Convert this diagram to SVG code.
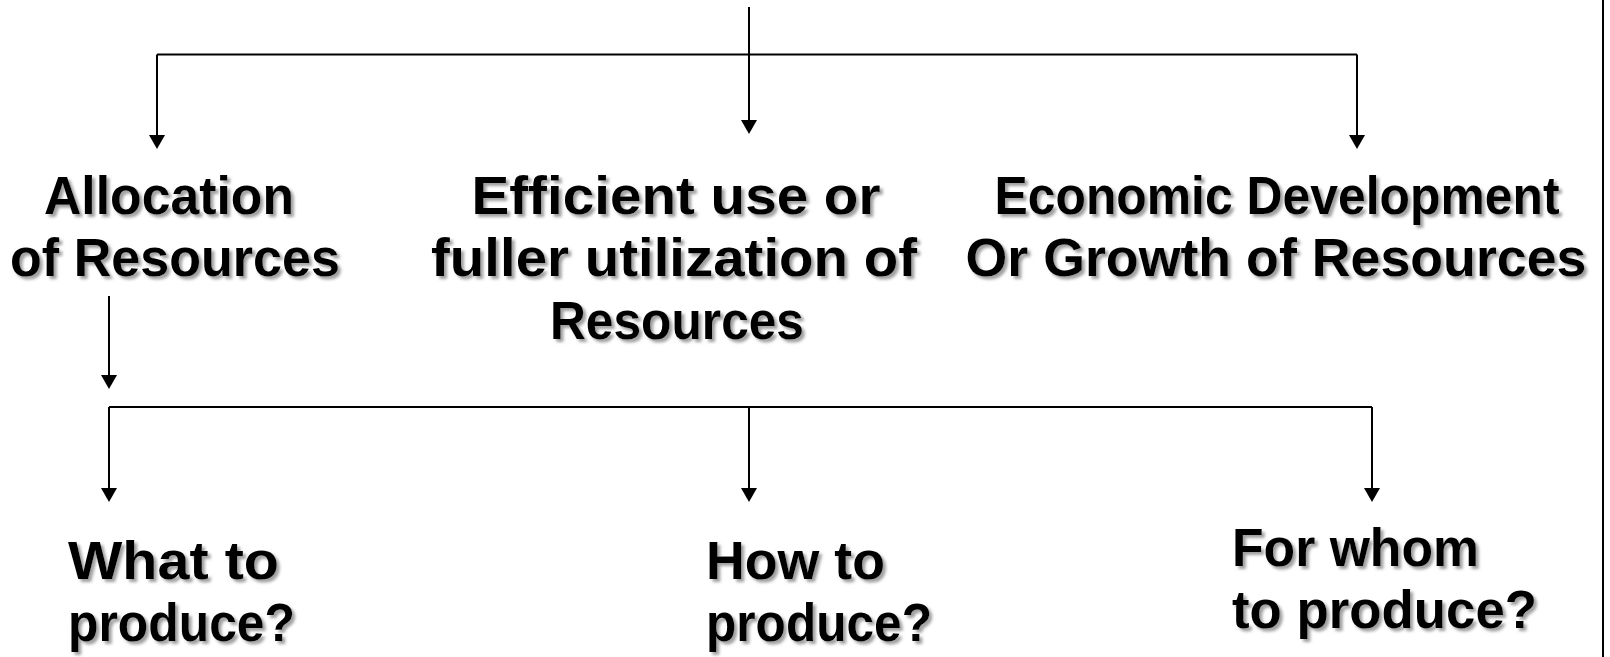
<svg xmlns="http://www.w3.org/2000/svg" width="1610" height="657" viewBox="0 0 1610 657">
<style>
.lbl{font-family:"Comic Sans MS","Liberation Sans","DejaVu Sans",sans-serif;font-weight:bold;font-size:53px;fill:#000;filter:url(#sh)}
.c{text-anchor:middle}
.conn path{stroke:#000;stroke-width:2;fill:none}
.conn path.arr{marker-end:url(#ah)}
</style>
<defs>
<filter id="sh" x="-10%" y="-30%" width="120%" height="160%">
<feDropShadow dx="3" dy="3" stdDeviation="1.5" flood-color="#808080" flood-opacity="0.75"/>
</filter>
<marker id="ah" markerUnits="userSpaceOnUse" viewBox="0 0 14 16" refX="10" refY="8" markerWidth="14" markerHeight="16" orient="auto">
<path d="M0,0 L14,8 L0,16 z" fill="#000"/>
</marker>
</defs>
<rect width="1610" height="657" fill="#fff"/>
<line x1="1603" y1="0" x2="1603" y2="657" stroke="#000" stroke-width="2"/>
<g id="connectors" class="conn">
<path class="arr" d="M749,7 V130"/>
<path d="M157,54.5 H1357"/>
<path class="arr" d="M157,54.5 V145"/>
<path class="arr" d="M1357,54.5 V145"/>
<path class="arr" d="M109,296 V385"/>
<path d="M109,407 H1372"/>
<path class="arr" d="M109,407 V498"/>
<path class="arr" d="M749,407 V498"/>
<path class="arr" d="M1372,407 V498"/>
</g>
<g id="node-allocation">
<text class="lbl c" x="169" y="214" textLength="250" lengthAdjust="spacingAndGlyphs">Allocation</text>
<text class="lbl c" x="175" y="276" textLength="330" lengthAdjust="spacingAndGlyphs">of Resources</text>
</g>
<g id="node-efficient">
<text class="lbl c" x="676" y="214" textLength="409" lengthAdjust="spacingAndGlyphs">Efficient use or</text>
<text class="lbl c" x="674" y="276" textLength="486" lengthAdjust="spacingAndGlyphs">fuller utilization of</text>
<text class="lbl c" x="677" y="339" textLength="254" lengthAdjust="spacingAndGlyphs">Resources</text>
</g>
<g id="node-economic">
<text class="lbl c" x="1277" y="214" textLength="565" lengthAdjust="spacingAndGlyphs">Economic Development</text>
<text class="lbl c" x="1276" y="276" textLength="621" lengthAdjust="spacingAndGlyphs">Or Growth of Resources</text>
</g>
<g id="node-what">
<text class="lbl" x="68" y="579" textLength="211" lengthAdjust="spacingAndGlyphs">What to</text>
<text class="lbl" x="68" y="641" textLength="227" lengthAdjust="spacingAndGlyphs">produce?</text>
</g>
<g id="node-how">
<text class="lbl" x="706" y="579" textLength="179" lengthAdjust="spacingAndGlyphs">How to</text>
<text class="lbl" x="706" y="641" textLength="226" lengthAdjust="spacingAndGlyphs">produce?</text>
</g>
<g id="node-forwhom">
<text class="lbl" x="1232" y="566" textLength="247" lengthAdjust="spacingAndGlyphs">For whom</text>
<text class="lbl" x="1232" y="628" textLength="305" lengthAdjust="spacingAndGlyphs">to produce?</text>
</g>
</svg>
